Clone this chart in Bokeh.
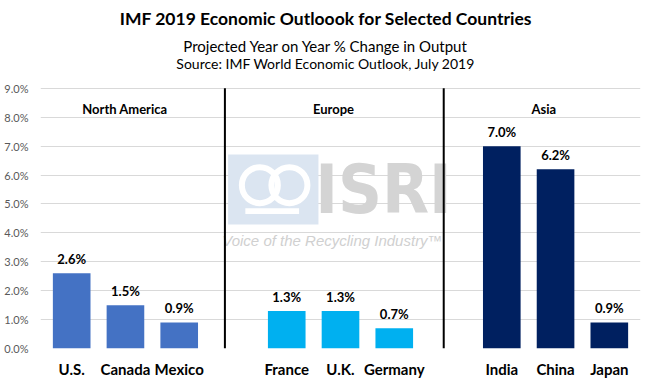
from bokeh.plotting import figure
from bokeh.models import FixedTicker, ColumnDataSource
from bokeh.core.properties import value
from bokeh.embed import file_html
from bokeh.resources import INLINE

# ---- data ----
countries = ["U.S.", "Canada", "Mexico", "France", "U.K.", "Germany", "India", "China", "Japan"]
growth = [2.6, 1.5, 0.9, 1.3, 1.3, 0.7, 7.0, 6.2, 0.9]
country_region = ["North America"] * 3 + ["Europe"] * 3 + ["Asia"] * 3
regions = ["North America", "Europe", "Asia"]
y_ticks = [0, 1, 2, 3, 4, 5, 6, 7, 8, 9]
y_tick_labels = ["0.0%", "1.0%", "2.0%", "3.0%", "4.0%", "5.0%", "6.0%", "7.0%", "8.0%", "9.0%"]
title_text = "IMF 2019 Economic Outloook for Selected Countries"
subtitle_text = "Projected Year on Year % Change in Output"
source_text = "Source: IMF World Economic Outlook, July 2019"

region_colors = {"North America": "#4472C4", "Europe": "#00B0F0", "Asia": "#002060"}
FONT = "Lato"

# slot positions: one empty slot between groups
xpos = [i + i // 3 for i in range(len(countries))]

src = ColumnDataSource(dict(
    x=xpos,
    top=growth,
    color=[region_colors[r] for r in country_region],
    label=[f"{v:.1f}%" for v in growth],
))

# the frame extends above 9% to hold the title block (no ticks/grid up there)
p = figure(width=650, height=386, x_range=(-0.58, 10.58), y_range=(0, 12.04),
           output_backend="svg", toolbar_location=None, title=None,
           min_border_left=40, min_border_right=10, min_border_top=0, min_border_bottom=38)

# title block
title_x = 4.73
p.text(x=[title_x], y=[11.42], text=[title_text], text_align="center", text_baseline="middle",
       text_font=value(FONT), text_font_size="17.5px", text_font_style="bold", text_color="#000000")
p.text(x=[title_x], y=[10.48], text=[subtitle_text], text_align="center", text_baseline="middle",
       text_font=value(FONT), text_font_size="15px", text_color="#000000")
p.text(x=[title_x], y=[9.86], text=[source_text], text_align="center", text_baseline="middle",
       text_font=value(FONT), text_font_size="14px", text_color="#000000")

# watermark (decorative)
p.rect(x=[3.75], y=[5.5], width=1.68, height=2.42, color="#dbe5f1", line_color=None)
p.scatter(x=[3.5, 4.05], y=[5.65, 5.65], size=36, marker="circle", fill_color=None,
          line_color="white", line_width=6)
p.rect(x=[3.73], y=[4.75], width=1.0, height=0.2, color="white", line_color=None)
p.text(x=[5.8], y=[5.5], text=["ISRI"], text_align="center", text_baseline="middle",
       text_font=value("DejaVu Sans Condensed"), text_font_style="bold",
       text_font_size="68px", text_color="#d4d4d4")
p.text(x=[4.85], y=[3.73], text=["Voice of the Recycling Industry\u2122"], text_align="center",
       text_baseline="middle", text_font=value("Liberation Sans"), text_font_style="italic",
       text_font_size="15px", text_color="#d0d0d0")

# bars
p.vbar(x="x", top="top", width=0.7, color="color", line_color=None, source=src)
p.text(x="x", y="top", text="label", source=src, text_align="center", text_baseline="bottom",
       y_offset=-6, text_font=value(FONT), text_font_style="bold", text_font_size="13px",
       text_color="#000000")

# group dividers and group labels
divider_x = [2.85, 6.92]
p.segment(x0=divider_x, x1=divider_x, y0=[9, 9], y1=[0, 0], line_color="#000000", line_width=2)
group_label_x = [0.99, 4.87, 8.78]
p.text(x=group_label_x, y=[8.3] * 3, text=regions, text_align="center", text_baseline="middle",
       text_font=value(FONT), text_font_style="bold", text_font_size="13px", text_color="#000000")

# axes
p.xaxis.ticker = FixedTicker(ticks=xpos)
p.xaxis.major_label_overrides = {x: c for x, c in zip(xpos, countries)}
p.xaxis.major_label_text_font = FONT
p.xaxis.major_label_text_font_style = "bold"
p.xaxis.major_label_text_font_size = "15px"
p.xaxis.major_label_text_color = "#000000"
p.xaxis.major_label_standoff = 5
p.yaxis.ticker = FixedTicker(ticks=y_ticks)
p.yaxis.major_label_overrides = {t: l for t, l in zip(y_ticks, y_tick_labels)}
p.yaxis.major_label_text_font = FONT
p.yaxis.major_label_text_font_size = "11px"
p.yaxis.major_label_text_color = "#595959"
p.yaxis.major_label_standoff = 6
for ax in (p.xaxis, p.yaxis):
    ax.axis_line_color = None
    ax.major_tick_line_color = None
    ax.minor_tick_line_color = None

p.xgrid.grid_line_color = None
p.ygrid.grid_line_color = "#d9d9d9"
p.outline_line_color = None
p.background_fill_color = "white"

open("out.html", "w").write(file_html(p, INLINE))
